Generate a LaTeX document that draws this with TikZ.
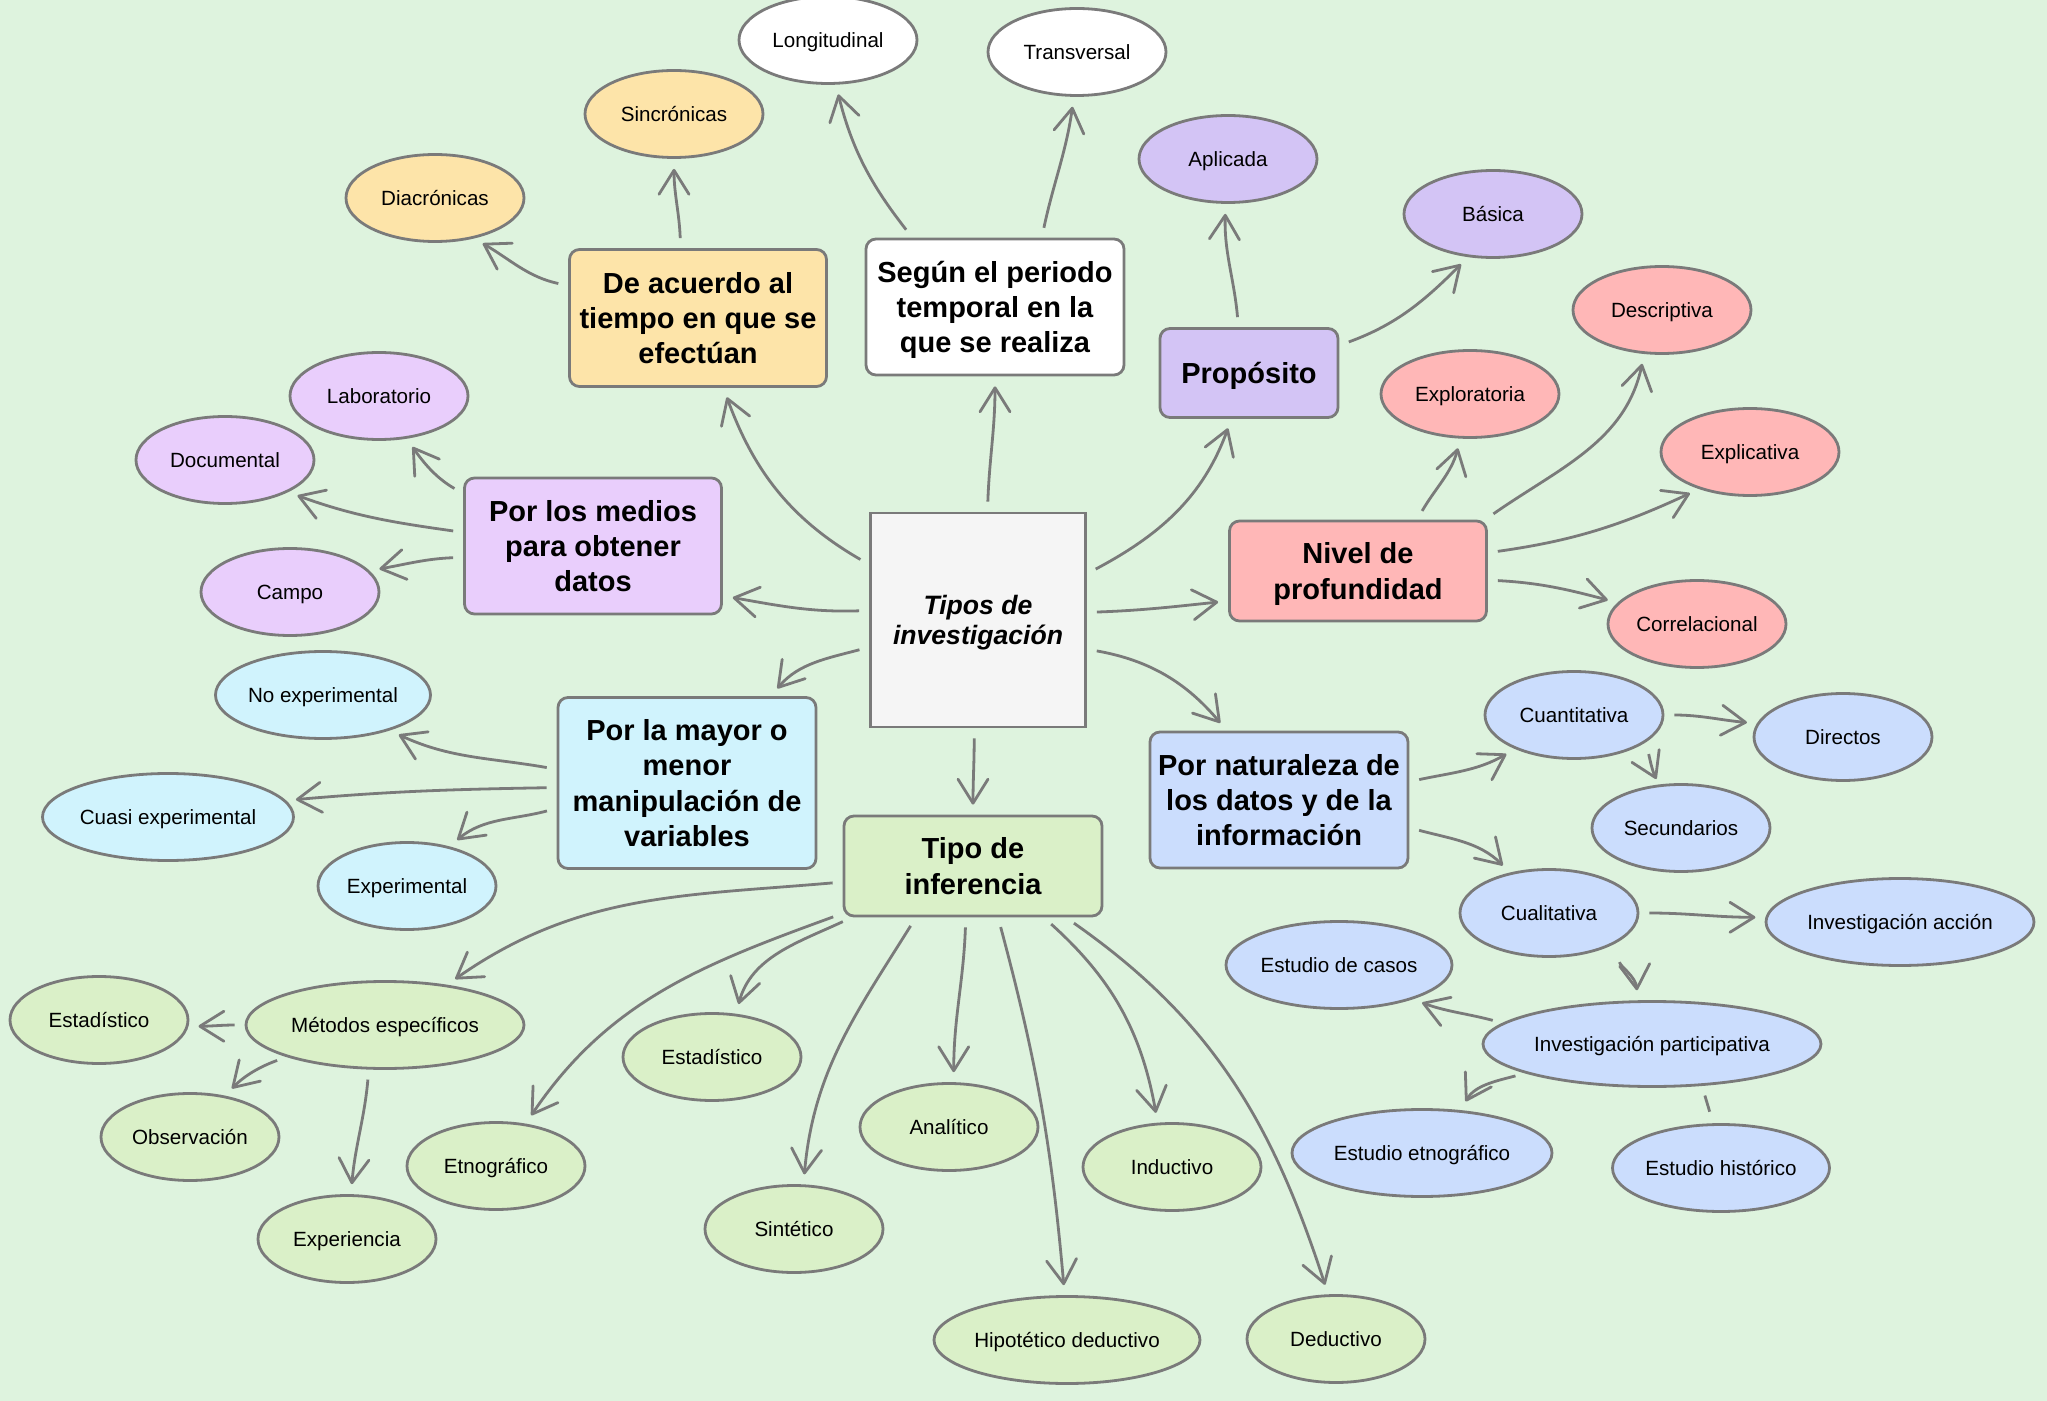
\documentclass[tikz,border=0pt]{standalone}
\usepackage{fontspec}
\setmainfont{Liberation Sans}
\usetikzlibrary{shapes.geometric,arrows.meta}

\definecolor{bgcol}{HTML}{DEF3DE}
\definecolor{linecol}{HTML}{7A7A7A}
\definecolor{centrocol}{HTML}{F5F5F5}
\definecolor{tiempocol}{HTML}{FDE4A9}
\definecolor{propcol}{HTML}{D3C4F5}
\definecolor{medioscol}{HTML}{E9CEFC}
\definecolor{nivelcol}{HTML}{FFB7B7}
\definecolor{natcol}{HTML}{CBDDFD}
\definecolor{manipcol}{HTML}{D0F3FD}
\definecolor{infcol}{HTML}{DAF0C8}

\tikzset{
  box/.style={draw=linecol, line width=1.4pt, rounded corners=5pt, align=center,
    inner sep=0pt, minimum width=128.5pt, minimum height=68pt, text depth=0pt,
    font=\fontsize{14.5}{17.6}\selectfont\bfseries},
  centro/.style={draw=linecol, line width=1.4pt, fill=centrocol, align=center,
    inner sep=0pt, minimum width=107.5pt, minimum height=107pt, text depth=0pt,
    font=\fontsize{13.3}{15}\selectfont\bfseries\itshape},
  leaf/.style={ellipse, draw=linecol, line width=1.4pt, inner sep=0pt,
    minimum width=89pt, minimum height=43.5pt, text height=7.4pt, text depth=0pt,
    font=\fontsize{10.3}{12}\selectfont},
  conn/.style={draw=linecol, line width=1.4pt, shorten <=5pt, shorten >=5pt,
    -{Straight Barb[length=12pt,width=15pt,round]}},
  tick/.style={draw=linecol, line width=1.4pt, shorten <=5pt, shorten >=6pt},
}

\begin{document}
\begin{tikzpicture}[x=0.5pt,y=-0.5pt]
\useasboundingbox (0,0) rectangle (2047,1401);
\fill[bgcol] (0,0) rectangle (2047,1401);

% centro y categorias
\node[centro] (c) at (978,620) {Tipos de\\investigación};
\node[box, fill=tiempocol, minimum height=68.5pt] (tiempo) at (698,318) {De acuerdo al\\tiempo en que se\\efectúan};
\node[box, fill=white, minimum width=129pt] (periodo) at (995,307) {Según el periodo\\temporal en la\\que se realiza};
\node[box, fill=propcol, minimum width=89pt, minimum height=44.5pt, text height=10.4pt] (proposito) at (1249,373) {Propósito};
\node[box, fill=nivelcol, minimum height=50pt] (nivel) at (1358,571) {Nivel de\\profundidad};
\node[box, fill=natcol, minimum width=129pt] (naturaleza) at (1279,800) {Por naturaleza de\\los datos y de la\\información};
\node[box, fill=infcol, minimum width=129pt, minimum height=50pt] (inferencia) at (973,866) {Tipo de\\inferencia};
\node[box, fill=manipcol, minimum width=129pt, minimum height=85.5pt] (manipulacion) at (687,783) {Por la mayor o\\menor\\manipulación de\\variables};
\node[box, fill=medioscol] (medios) at (593,546) {Por los medios\\para obtener\\datos};

% hojas
\node[leaf, fill=white] (longitudinal) at (828,40) {Longitudinal};
\node[leaf, fill=white] (transversal) at (1077,52) {Transversal};
\node[leaf, fill=tiempocol] (sincronicas) at (674,114) {Sincrónicas};
\node[leaf, fill=tiempocol] (diacronicas) at (435,198) {Diacrónicas};
\node[leaf, fill=propcol] (aplicada) at (1228,159) {Aplicada};
\node[leaf, fill=propcol] (basica) at (1493,214) {Básica};
\node[leaf, fill=nivelcol] (descriptiva) at (1662,310) {Descriptiva};
\node[leaf, fill=nivelcol] (exploratoria) at (1470,394) {Exploratoria};
\node[leaf, fill=nivelcol] (explicativa) at (1750,452) {Explicativa};
\node[leaf, fill=nivelcol] (correlacional) at (1697,624) {Correlacional};
\node[leaf, fill=medioscol] (laboratorio) at (379,396) {Laboratorio};
\node[leaf, fill=medioscol] (documental) at (225,460) {Documental};
\node[leaf, fill=medioscol] (campo) at (290,592) {Campo};
\node[leaf, fill=manipcol, minimum width=107.5pt] (noexp) at (323,695) {No experimental};
\node[leaf, fill=manipcol, minimum width=125.5pt] (cuasi) at (168,817) {Cuasi experimental};
\node[leaf, fill=manipcol] (experimental) at (407,886) {Experimental};
\node[leaf, fill=natcol] (cuantitativa) at (1574,715) {Cuantitativa};
\node[leaf, fill=natcol] (directos) at (1843,737) {Directos};
\node[leaf, fill=natcol] (secundarios) at (1681,828) {Secundarios};
\node[leaf, fill=natcol] (cualitativa) at (1549,913) {Cualitativa};
\node[leaf, fill=natcol, minimum width=134pt] (accion) at (1900,922) {Investigación acción};
\node[leaf, fill=natcol, minimum width=113pt] (casos) at (1339,965) {Estudio de casos};
\node[leaf, fill=natcol, minimum width=169pt, minimum height=42.5pt] (participativa) at (1652,1044) {Investigación participativa};
\node[leaf, fill=natcol, minimum width=130pt] (etnografico2) at (1422,1153) {Estudio etnográfico};
\node[leaf, fill=natcol, minimum width=108.5pt] (historico) at (1721,1168) {Estudio histórico};
\node[leaf, fill=infcol, minimum width=139pt] (metodos) at (385,1025) {Métodos específicos};
\node[leaf, fill=infcol] (estad1) at (99,1020) {Estadístico};
\node[leaf, fill=infcol] (observacion) at (190,1137) {Observación};
\node[leaf, fill=infcol] (experiencia) at (347,1239) {Experiencia};
\node[leaf, fill=infcol] (etnografico) at (496,1166) {Etnográfico};
\node[leaf, fill=infcol] (estad2) at (712,1057) {Estadístico};
\node[leaf, fill=infcol] (sintetico) at (794,1229) {Sintético};
\node[leaf, fill=infcol] (analitico) at (949,1127) {Analítico};
\node[leaf, fill=infcol, minimum width=133pt] (hipotetico) at (1067,1340) {Hipotético deductivo};
\node[leaf, fill=infcol] (inductivo) at (1172,1167) {Inductivo};
\node[leaf, fill=infcol] (deductivo) at (1336,1339) {Deductivo};

% desde el centro
\draw[conn] (c.153) to[out=150,in=290] (tiempo.290);
\draw[conn] (c.85) to[out=88,in=270] (periodo.270);
\draw[conn] (c.23) to[out=28,in=250] (proposito.249);
\draw[conn] (c.4) to[out=2,in=186] (nivel.193);
\draw[conn] (c.345) to[out=350,in=130] (naturaleza.127);
\draw[conn] (c.268) to[out=270,in=90] (inferencia.90);
\draw[conn] (c.194) to[out=195,in=50] (manipulacion.46);
\draw[conn] (c.175) to[out=182,in=350] (medios.339);

% tiempo, periodo, proposito
\draw[conn] (tiempo.166) to[out=168,in=330] (diacronicas.314);
\draw[conn] (tiempo.104) to[out=92,in=270] (sincronicas.270);
\draw[conn] (periodo.140) to[out=128,in=284] (longitudinal.280);
\draw[conn] (periodo.56) to[out=78,in=262] (transversal.266);
\draw[conn] (proposito.103) to[out=95,in=268] (aplicada.267);
\draw[conn] (proposito.17) to[out=20,in=225] (basica.240);

% nivel
\draw[conn] (nivel.41) to[out=60,in=255] (exploratoria.258);
\draw[conn] (nivel.22) to[out=35,in=258] (descriptiva.248);
\draw[conn] (nivel.8) to[out=8,in=205] (explicativa.216);
\draw[conn] (nivel.356) to[out=-3,in=165] (correlacional.165);

% naturaleza
\draw[conn] (naturaleza.8) to[out=12,in=210] (cuantitativa.210);
\draw[conn] (naturaleza.348) to[out=-15,in=135] (cualitativa.134);
\draw[conn] (cuantitativa.0) to[out=0,in=175] (directos.171);
\draw[conn, shorten <=6pt, shorten >=3pt] (cuantitativa.339) to[out=-75,in=115] (secundarios.117);
\draw[conn] (cualitativa.0) to[out=0,in=180] (accion.178);
\draw[conn, shorten <=10pt] (cualitativa.337) to[out=-85,in=95] (participativa.108);
\draw[conn] (participativa.172) to[out=165,in=340] (casos.335);
\draw[conn] (participativa.193) to[out=195,in=60] (etnografico2.48);
\draw[tick] (participativa.320) -- (historico.100);

% medios, manipulacion
\draw[conn] (medios.158) to[out=150,in=305] (laboratorio.303);
\draw[conn] (medios.174) to[out=172,in=340] (documental.333);
\draw[conn] (medios.185) to[out=182,in=10] (campo.15);
\draw[conn] (manipulacion.174) to[out=170,in=335] (noexp.332);
\draw[conn] (manipulacion.182) to[out=181,in=5] (cuasi.8);
\draw[conn] (manipulacion.191) to[out=195,in=40] (experimental.43);

% inferencia
\draw[conn] (inferencia.187) to[out=185,in=35] (metodos.33);
\draw[conn] (inferencia.200) to[out=200,in=56] (etnografico.55);
\draw[conn] (inferencia.203) to[out=205,in=75] (estad2.61);
\draw[conn] (inferencia.222) to[out=238,in=85] (sintetico.78);
\draw[conn] (inferencia.262) to[out=268,in=90] (analitico.84);
\draw[conn] (inferencia.296) to[out=285,in=95] (hipotetico.93);
\draw[conn] (inferencia.324) to[out=318,in=100] (inductivo.108);
\draw[conn] (inferencia.331) to[out=325,in=108] (deductivo.100);
\draw[conn] (metodos.180) to[out=180,in=0] (estad1.356);
\draw[conn] (metodos.198) to[out=200,in=45] (observacion.50);
\draw[conn] (metodos.250) to[out=265,in=85] (experiencia.85);
\end{tikzpicture}
\end{document}
